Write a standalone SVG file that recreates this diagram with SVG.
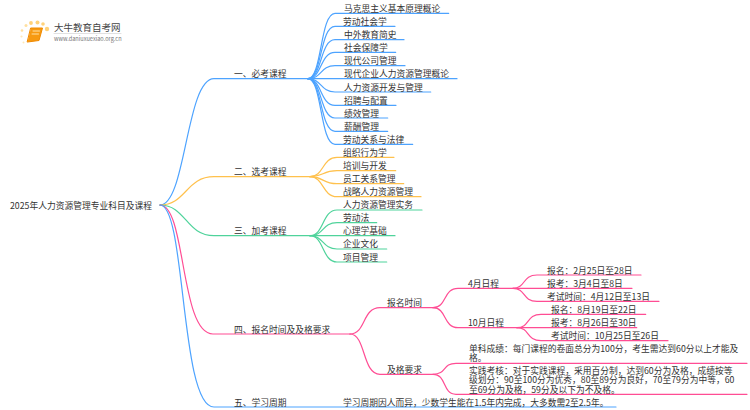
<svg xmlns="http://www.w3.org/2000/svg" width="750" height="410" viewBox="0 0 750 410">
<style>
text{font-family:"Noto Sans CJK SC","Noto Sans",sans-serif;font-size:8.75px;fill:#333}
path{fill:none;stroke-width:1.2;stroke-linecap:round}
.b{stroke:#4da3ff}.o{stroke:#ffc14d}.g{stroke:#4fd39b}.p{stroke:#ff4d94}
</style>
<rect width="750" height="410" fill="#fff"/>
<g id="logo">
<circle cx="47" cy="29" r="2.2" fill="#ffd27a"/><circle cx="43" cy="24" r="1.8" fill="#ffd27a"/><circle cx="37.500" cy="22.500" r="2" fill="#ffd27a"/><circle cx="31" cy="23" r="1.9" fill="#ffd27a"/><circle cx="26" cy="25.500" r="1.5" fill="#ffe0a0"/><circle cx="22" cy="30.500" r="1.3" fill="#ffe0a0"/><circle cx="21.500" cy="36.500" r="1.1" fill="#ffe8b8"/><circle cx="23.500" cy="42.500" r="1" fill="#ffe8b8"/>
<path d="M31 28H42.500L39 40.500 27.500 42Z" style="fill:#f79a12;stroke:#f08a00;stroke-width:1"/>
<path d="M33 31H39.500M32 34H38.500" style="stroke:#ffe2a8;stroke-width:1"/>
<text x="54" y="31" style="font-size:9.500px;fill:#444">大牛教育自考网</text>
<path d="M54 33.500H121" style="stroke:#ccc;stroke-width:.6"/>
<text x="54" y="40.500" style="font-size:5.600px;fill:#777">www.daniuxuexiao.org.cn</text>
</g>
<g id="connectors">
<path class="b" d="M160 205C186 205 186 78.700 214 78.700H308"/>
<path class="o" d="M160 205C186 205 186 176.700 214 176.700H310"/>
<path class="g" d="M160 205C186 205 186 235.700 214 235.700H310"/>
<path class="p" d="M160 205C186 205 180 334 213 334H350"/>
<path class="b" d="M160 205C186 205 180 407 214 407H616"/>
<path class="b" d="M308 78.700C322 78.700 320 13.300 335 13.300H448.700"/>
<path class="b" d="M308 78.700C322 78.700 320 26.300 335 26.300H395"/>
<path class="b" d="M308 78.700C322 78.700 320 39.700 335 39.700H404"/>
<path class="b" d="M308 78.700C322 78.700 320 52.300 335 52.300H395.700"/>
<path class="b" d="M308 78.700C322 78.700 320 65.700 335 65.700H405"/>
<path class="b" d="M308 78.700H457"/>
<path class="b" d="M308 78.700C322 78.700 320 92 335 92H430.700"/>
<path class="b" d="M308 78.700C322 78.700 320 105.300 335 105.300H396"/>
<path class="b" d="M308 78.700C322 78.700 320 118 335 118H387.700"/>
<path class="b" d="M308 78.700C322 78.700 320 131.300 335 131.300H387.700"/>
<path class="b" d="M308 78.700C322 78.700 320 144.300 335 144.300H412.700"/>
<path class="o" d="M310 176.700C324 176.700 322 157.300 337 157.300H394"/>
<path class="o" d="M310 176.700C324 176.700 322 170.700 337 170.700H395.700"/>
<path class="o" d="M310 176.700C324 176.700 322 183.700 337 183.700H403.700"/>
<path class="o" d="M310 176.700C324 176.700 322 196.700 337 196.700H421"/>
<path class="g" d="M310 235.700C324 235.700 322 210 337 210H422"/>
<path class="g" d="M310 235.700C324 235.700 322 222.700 337 222.700H376.700"/>
<path class="g" d="M310 235.700H395"/>
<path class="g" d="M310 235.700C324 235.700 322 249 337 249H386.700"/>
<path class="g" d="M310 235.700C324 235.700 322 262 337 262H386.700"/>
<path class="p" d="M350 334C366 334 362 307.700 380 307.700H433"/>
<path class="p" d="M350 334C366 334 362 374.300 380 374.300H433"/>
<path class="p" d="M433 307.700C447 307.700 443 288.300 458 288.300H513"/>
<path class="p" d="M433 307.700C447 307.700 443 327.700 458 327.700H517"/>
<path class="p" d="M513 288.300C526 288.300 522 275 537 275H641"/>
<path class="p" d="M513 288.300H632"/>
<path class="p" d="M513 288.300C526 288.300 522 301.300 537 301.300H659"/>
<path class="p" d="M517 327.700C530 327.700 526 314.300 541 314.300H645.700"/>
<path class="p" d="M517 327.700H636.700"/>
<path class="p" d="M517 327.700C530 327.700 526 340.700 541 340.700H668"/>
<path class="p" d="M433 374.300C447 374.300 442 363.300 456 363.300H747"/>
<path class="p" d="M433 374.300C447 374.300 442 394.300 456 394.300H747"/>
</g>
<g id="root"><text x="10" y="209">2025年人力资源管理专业科目及课程</text></g>
<g id="b1"><text x="234" y="77">一、必考课程</text></g>
<g id="b2"><text x="234" y="175">二、选考课程</text></g>
<g id="b3"><text x="234" y="234">三、加考课程</text></g>
<g id="b4"><text x="234" y="333">四、报名时间及及格要求</text></g>
<g id="b5"><text x="234" y="406">五、学习周期</text></g>
<g id="n1"><text x="344" y="12">马克思主义基本原理概论</text></g>
<g id="n2"><text x="343" y="25">劳动社会学</text></g>
<g id="n3"><text x="344" y="38">中外教育简史</text></g>
<g id="n4"><text x="344" y="51">社会保障学</text></g>
<g id="n5"><text x="344" y="64">现代公司管理</text></g>
<g id="n6"><text x="344" y="77">现代企业人力资源管理概论</text></g>
<g id="n7"><text x="344" y="90.500">人力资源开发与管理</text></g>
<g id="n8"><text x="344" y="104">招聘与配置</text></g>
<g id="n9"><text x="344" y="117">绩效管理</text></g>
<g id="n10"><text x="344" y="130">薪酬管理</text></g>
<g id="n11"><text x="343" y="143">劳动关系与法律</text></g>
<g id="o1"><text x="343" y="156">组织行为学</text></g>
<g id="o2"><text x="343" y="169">培训与开发</text></g>
<g id="o3"><text x="343" y="182">员工关系管理</text></g>
<g id="o4"><text x="343" y="195">战略人力资源管理</text></g>
<g id="g1"><text x="343" y="208">人力资源管理实务</text></g>
<g id="g2"><text x="343" y="221">劳动法</text></g>
<g id="g3"><text x="343" y="234">心理学基础</text></g>
<g id="g4"><text x="343" y="247">企业文化</text></g>
<g id="g5"><text x="343" y="260.500">项目管理</text></g>
<g id="s1"><text x="387" y="306">报名时间</text></g>
<g id="s2"><text x="387" y="373">及格要求</text></g>
<g id="m1"><text x="468" y="286.500">4月日程</text></g>
<g id="m2"><text x="468" y="326">10月日程</text></g>
<g id="d1"><text x="547" y="273.500">报名：2月25日至28日</text></g>
<g id="d2"><text x="547" y="286.500">报考：3月4日至8日</text></g>
<g id="d3"><text x="547" y="299.500">考试时间：4月12日至13日</text></g>
<g id="d4"><text x="551" y="312.500">报名：8月19日至22日</text></g>
<g id="d5"><text x="551" y="326">报考：8月26日至30日</text></g>
<g id="d6"><text x="551" y="339">考试时间：10月25日至26日</text></g>
<g id="r1"><text x="469" y="351.500">单科成绩：每门课程的卷面总分为100分，考生需达到60分以上才能及<tspan x="469" dy="9.400">格。</tspan></text></g>
<g id="r2"><text x="469" y="374">实践考核：对于实践课程，采用百分制，达到60分为及格，成绩按等<tspan x="469" dy="9.300">级划分：90至100分为优秀，80至89分为良好，70至79分为中等，60</tspan><tspan x="469" dy="9.300">至69分为及格，59分及以下为不及格。</tspan></text></g>
<g id="t1"><text x="343" y="405.500">学习周期因人而异，少数学生能在1.5年内完成，大多数需2至2.5年。</text></g>
</svg>
